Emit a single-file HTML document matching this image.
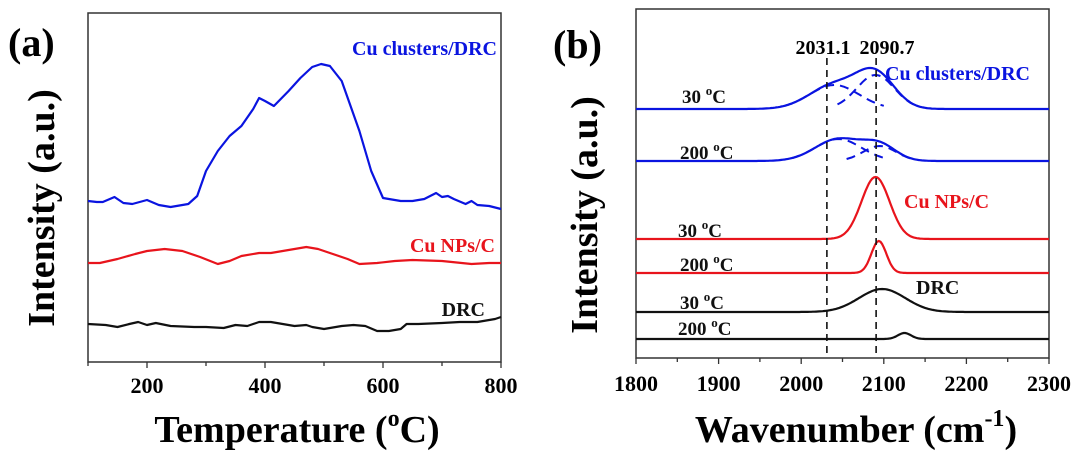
<!DOCTYPE html>
<html><head><meta charset="utf-8">
<style>
html,body{margin:0;padding:0;background:#fff;}
svg{display:block;font-family:"Liberation Serif",serif;font-weight:bold;}
</style></head>
<body>
<svg id="fig" width="1080" height="461" viewBox="0 0 1080 461" xmlns="http://www.w3.org/2000/svg">
<g id="pa"></g>
<g id="pb"></g>
</svg>
<script>
// ---------- Panel (a) data: TPD (intensity, arbitrary units) ----------
const tempBlue = [100,115,125,145,160,175,200,220,240,260,270,285,300,320,340,360,380,390,400,415,440,460,480,495,510,530,560,580,600,630,650,670,680,690,700,710,720,740,750,760,780,800];
const valBlue  = [161,160,160,165,159,158,162,157,155,157,158,166,191,211,226,236,253,264,261,256,271,284,295,298,296,281,231,191,164,161,161,163,166,169,165,166,163,158,161,157,156,153];
const tempRed  = [100,120,150,180,200,230,260,290,320,340,360,390,410,430,450,470,490,510,540,560,590,620,650,700,750,780,800];
const valRed   = [99,99,103,108,111,113,111,105,98,101,106,109,109,111,113,115,113,109,103,98,99,101,102,101,98,99,99];
const tempBlk  = [100,130,150,170,185,200,215,240,280,300,330,350,370,390,410,430,450,470,480,500,530,550,570,590,610,630,640,660,700,730,760,790,800];
const valBlk   = [38,37,35,38,40,37,39,36,35,35,34,37,36,40,40,38,36,37,35,33,36,37,36,31,31,33,38,38,39,40,40,43,45];
const ticksA = [200,400,600,800];
const minorA = [100,300,500,700];

// ---------- Panel (b) data: fitted Gaussian components [center, amplitude, sigma] ----------
const wnRange = [1800,2300];
const blue30Comps  = [[2040,24,30],[2090,34,23]];
const blue200Comps = [[2045,22,28],[2095,15,20]];
const red30Comps   = [[2090,62,17]];
const red200Comps  = [[2094,32,9]];
const blk30Comps   = [[2098,23,28]];
const blk200Comps  = [[2125,6,8]];
const offsetsB = [249,197,119,85,46,19]; // baseline offsets (a.u.) for stacked traces
const ticksB = [1800,1900,2000,2100,2200,2300];
const minorB = [1850,1950,2050,2150,2250];
const markers = [2031.1,2090.7];

const NS="http://www.w3.org/2000/svg";
function mk(parent,tag,attrs,text){const e=document.createElementNS(NS,tag);for(const k in attrs)e.setAttribute(k,attrs[k]);if(text!==undefined)e.textContent=text;parent.appendChild(e);return e;}

// ---- panel a ----
const pa=document.getElementById('pa');
const aL=88,aR=501,aT=13,aB=362;
const xA=t=>aL+(t-100)/(800-100)*(aR-aL);
const yA=v=>aB-v;
let r=mk(pa,'rect',{x:aL,y:aT,width:aR-aL,height:aB-aT,fill:'none',stroke:'#333','stroke-width':1.5});


function lineA(ts,vs,color,name){
  const d=ts.map((t,i)=>(i?'L':'M')+xA(t).toFixed(1)+','+yA(vs[i]).toFixed(1)).join(' ');
  const p=mk(pa,'path',{d:d,fill:'none',stroke:color,'stroke-width':2.2,'stroke-linejoin':'round'});
  
  
}
lineA(tempBlue,valBlue,'#0a14e0','series-cu-clusters-drc');
lineA(tempRed,valRed,'#e8141c','series-cu-nps-c');
lineA(tempBlk,valBlk,'#111','series-drc');
ticksA.forEach(t=>{
  const l=mk(pa,'line',{x1:xA(t),x2:xA(t),y1:aB,y2:aB+6,stroke:'#333','stroke-width':1.3});
  
  
  const tx=mk(pa,'text',{x:xA(t),y:393,'text-anchor':'middle','font-size':22},String(t));
  
  
});
minorA.forEach(t=>{
  const l=mk(pa,'line',{x1:xA(t),x2:xA(t),y1:aB,y2:aB+4,stroke:'#333','stroke-width':1.3});
  
  
});

// ---- panel b ----
const pb=document.getElementById('pb');
const bL=636,bR=1049,bT=9,bB=358;
const xB=w=>bL+(w-wnRange[0])/(wnRange[1]-wnRange[0])*(bR-bL);
const yB=v=>bB-v;
r=mk(pb,'rect',{x:bL,y:bT,width:bR-bL,height:bB-bT,fill:'none',stroke:'#333','stroke-width':1.5});


function gsum(comps,w){let s=0;comps.forEach(c=>{s+=c[1]*Math.exp(-((w-c[0])**2)/(2*c[2]*c[2]));});return s;}
function curveB(comps,off,color,name){
  let d='';
  for(let w=wnRange[0],i=0;w<=wnRange[1];w+=2,i++){d+=(i?'L':'M')+xB(w).toFixed(1)+','+yB(off+gsum(comps,w)).toFixed(1)+' ';}
  const p=mk(pb,'path',{d:d,fill:'none',stroke:color,'stroke-width':2.2});
  
  
}
function compsB(comps,off,color,name){
  comps.forEach(c=>{
    let d='';let i=0;
    for(let w=c[0]-2*c[2];w<=c[0]+2*c[2];w+=2,i++){d+=(i?'L':'M')+xB(w).toFixed(1)+','+yB(off+gsum([c],w)).toFixed(1)+' ';}
    const p=mk(pb,'path',{d:d,fill:'none',stroke:color,'stroke-width':2,'stroke-dasharray':'9,6'});
    
    
  });
}
compsB(blue30Comps,offsetsB[0],'#0a14e0','fit-component-blue-30');
compsB(blue200Comps,offsetsB[1],'#0a14e0','fit-component-blue-200');
curveB(blue30Comps,offsetsB[0],'#0a14e0','series-cu-clusters-30c');
curveB(blue200Comps,offsetsB[1],'#0a14e0','series-cu-clusters-200c');
curveB(red30Comps,offsetsB[2],'#e8141c','series-cu-nps-30c');
curveB(red200Comps,offsetsB[3],'#e8141c','series-cu-nps-200c');
curveB(blk30Comps,offsetsB[4],'#111','series-drc-30c');
curveB(blk200Comps,offsetsB[5],'#111','series-drc-200c');
markers.forEach(m=>{
  const l=mk(pb,'line',{x1:xB(m),x2:xB(m),y1:58,y2:bB,stroke:'#111','stroke-width':1.6,'stroke-dasharray':'7,5'});
  
  
});
ticksB.forEach(t=>{
  const l=mk(pb,'line',{x1:xB(t),x2:xB(t),y1:bB,y2:bB+6,stroke:'#333','stroke-width':1.3});
  
  
  const tx=mk(pb,'text',{x:xB(t),y:391,'text-anchor':'middle','font-size':22},String(t));
  
  
});
minorB.forEach(t=>{
  const l=mk(pb,'line',{x1:xB(t),x2:xB(t),y1:bB,y2:bB+4,stroke:'#333','stroke-width':1.3});
  
  
});
</script>
<svg style="position:absolute;left:0;top:0" width="1080" height="461" viewBox="0 0 1080 461" xmlns="http://www.w3.org/2000/svg" font-family="Liberation Serif, serif" font-weight="bold">
  <text x="8" y="56" font-size="40">(a)</text>
  <text transform="translate(54,208) rotate(-90)" text-anchor="middle" font-size="38">Intensity (a.u.)</text>
  <text x="297" y="442" text-anchor="middle" font-size="38">Temperature (<tspan font-size="24" dy="-16">o</tspan><tspan dy="16">C)</tspan></text>
  <text x="497" y="55" text-anchor="end" font-size="20" fill="#0a14e0">Cu clusters/DRC</text>
  <text x="495" y="252" text-anchor="end" font-size="20" fill="#e8141c">Cu NPs/C</text>
  <text x="485" y="316" text-anchor="end" font-size="20" fill="#111">DRC</text>

  <text x="553" y="58" font-size="40">(b)</text>
  <text transform="translate(597,215) rotate(-90)" text-anchor="middle" font-size="38">Intensity (a.u.)</text>
  <text x="856" y="442" text-anchor="middle" font-size="38">Wavenumber (cm<tspan font-size="24" dy="-16">-1</tspan><tspan dy="16">)</tspan></text>
  <text x="823" y="54" text-anchor="middle" font-size="20">2031.1</text>
  <text x="887" y="54" text-anchor="middle" font-size="20">2090.7</text>
  <text x="885" y="80" font-size="20" fill="#0a14e0">Cu clusters/DRC</text>
  <text x="904" y="208" font-size="20" fill="#e8141c">Cu NPs/C</text>
  <text x="916" y="294" font-size="20" fill="#111">DRC</text>
  <g font-size="19" fill="#111">
    <text x="682" y="103">30 <tspan font-size="13" dy="-8">o</tspan><tspan dy="8">C</tspan></text>
    <text x="680" y="159">200 <tspan font-size="13" dy="-8">o</tspan><tspan dy="8">C</tspan></text>
    <text x="678" y="237">30 <tspan font-size="13" dy="-8">o</tspan><tspan dy="8">C</tspan></text>
    <text x="680" y="271">200 <tspan font-size="13" dy="-8">o</tspan><tspan dy="8">C</tspan></text>
    <text x="680" y="309">30 <tspan font-size="13" dy="-8">o</tspan><tspan dy="8">C</tspan></text>
    <text x="678" y="335">200 <tspan font-size="13" dy="-8">o</tspan><tspan dy="8">C</tspan></text>
  </g>
</svg>
</body></html>
